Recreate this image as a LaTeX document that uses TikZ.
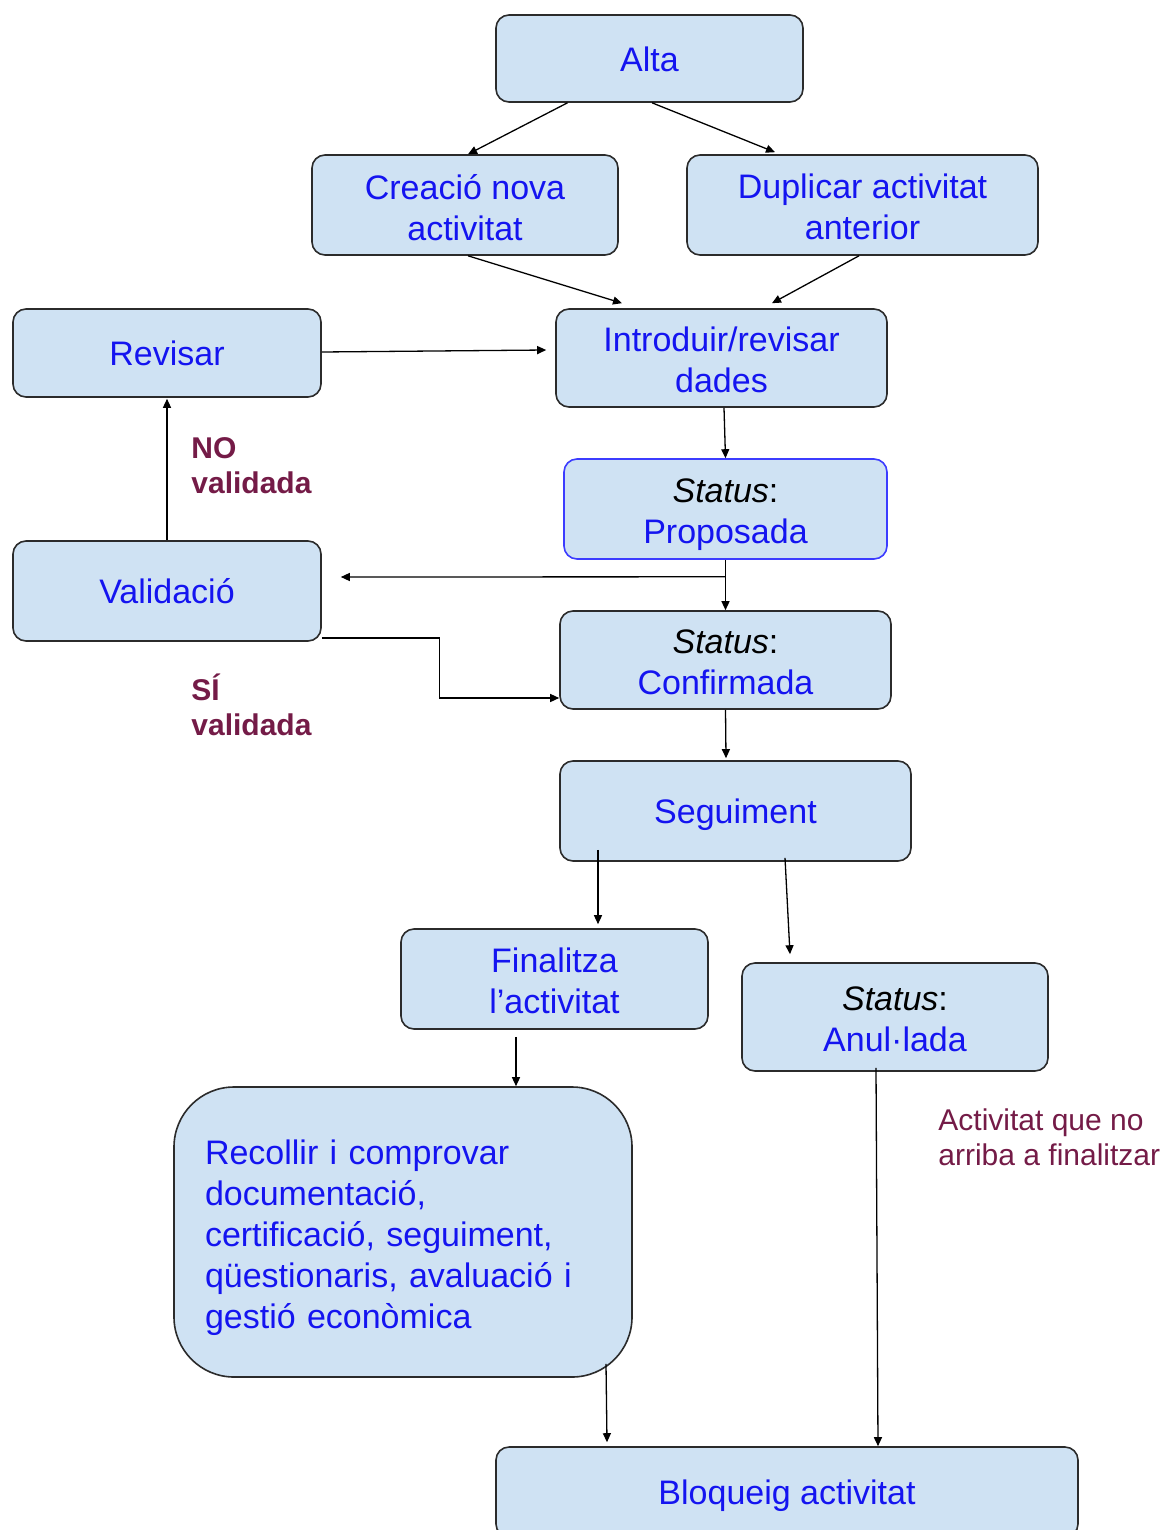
\documentclass[tikz,border=0pt]{standalone}
\usepackage{fontspec}
\setmainfont{Liberation Sans}
\usetikzlibrary{arrows.meta}
\definecolor{boxfill}{HTML}{CFE2F3}
\definecolor{boxline}{HTML}{2B2B2B}
\definecolor{tblue}{RGB}{20,20,240}
\definecolor{maroon}{HTML}{741B47}
\definecolor{propline}{HTML}{3C3CFF}
\newcommand\lift[1]{\rule{0pt}{#1}}
\begin{document}
\begin{tikzpicture}[x=0.5pt,y=-0.5pt,
  box/.style={draw=boxline, fill=boxfill, line width=0.8pt, rounded corners=6.5pt,
    text=tblue, font=\fontsize{17}{20.5}\selectfont, align=center, inner sep=0pt},
  wh/.style 2 args={minimum width=#1*0.5pt, minimum height=#2*0.5pt},
  conn/.style={draw=black, line width=0.65pt, -{Triangle[length=4.5pt,width=4pt]}},
  lbl/.style={text=maroon, align=left, inner sep=0pt, anchor=north west}]
\useasboundingbox (0,0) rectangle (1162,1530);
\clip (0,0) rectangle (1162,1530);

\node[box, wh={307}{87}] (alta) at (649.5,58.5) {\lift{13.4pt}Alta};
\node[box, wh={306}{100}] (creacio) at (465,205) {\lift{14.7pt}Creació nova\\activitat};
\node[box, wh={351}{100}] (duplicar) at (862.5,205) {\lift{14.4pt}Duplicar activitat\\anterior};
\node[box, wh={331}{98}] (intro) at (721.5,358) {\lift{14.4pt}Introduir/revisar\\dades};
\node[box, wh={308}{88}] (revisar) at (167,353) {Revisar};
\node[box, wh={323}{100}, draw=propline] (proposada) at (725.5,509) {\lift{17.6pt}{\color{black}\itshape Status}{\color{black}:}\\Proposada};
\node[box, wh={308}{100}] (validacio) at (167,591) {Validació};
\node[box, wh={331}{98}] (confirmada) at (725.5,660) {\lift{14.6pt}{\color{black}\itshape Status}{\color{black}:}\\Confirmada};
\node[box, wh={351}{100}] (seguiment) at (735.5,811) {\lift{16.4pt}Seguiment};
\node[box, wh={307}{100}] (finalitza) at (554.5,979) {\lift{14.4pt}Finalitza\\l’activitat};
\node[box, wh={306}{108}] (anulada) at (895,1017) {\lift{14.6pt}{\color{black}\itshape Status}{\color{black}:}\\Anul·lada};
\node[box, wh={458}{290}, rounded corners=30pt, align=left, text width=198pt] (recollir) at (403,1232)
  {\lift{18.4pt}Recollir i comprovar\\documentació,\\certificació, seguiment,\\qüestionaris, avaluació i\\gestió econòmica};
\node[box, wh={582}{90}] (bloqueig) at (787,1492) {\lift{16.4pt}Bloqueig activitat};

\node[lbl, font=\bfseries\fontsize{15}{17.5}\selectfont] (nolbl) at (191,437.5) {NO\\validada};
\node[lbl, font=\bfseries\fontsize{15}{17.5}\selectfont] (silbl) at (191,674) {SÍ\\validada};
\node[lbl, font=\fontsize{15}{17.5}\selectfont] (anullbl) at (938,1108.5) {Activitat que no\\arriba a finalitzar};

\draw[conn] ([xshift=-41pt]alta.south) -- ([xshift=1.5pt]creacio.north);
\draw[conn] ([xshift=1.25pt]alta.south) -- ([xshift=-43.75pt,yshift=1pt]duplicar.north);
\draw[conn] ([xshift=1.5pt]creacio.south) -- ([xshift=-49.75pt,yshift=2.5pt]intro.north);
\draw[conn] ([xshift=-1.75pt]duplicar.south) -- ([xshift=25.25pt,yshift=2.5pt]intro.north);
\draw[conn] ([yshift=0.5pt]revisar.east) -- ([xshift=-4.5pt,yshift=4pt]intro.west);
\draw[conn] ([xshift=1.25pt]intro.south) -- (proposada.north);
\draw[conn] (proposada.south) -- (confirmada.north);
\draw[conn] ([yshift=-8.5pt]proposada.south) -- ([xshift=9.5pt,yshift=7pt]validacio.east);
\draw[conn] (validacio.north) -- ([yshift=-0.5pt]revisar.south);
\draw[conn] ([yshift=-23.5pt]validacio.east) -- ++(118,0) |- ([yshift=-19pt]confirmada.west);
\draw[conn] (confirmada.south) -- ([xshift=-4.75pt,yshift=1pt]seguiment.north);
\draw[conn] ([xshift=-68.75pt,yshift=6pt]seguiment.south) -- ([xshift=21.75pt,yshift=2pt]finalitza.north);
\draw[conn] ([xshift=24.75pt,yshift=2pt]seguiment.south) -- ([xshift=-52.5pt,yshift=4pt]anulada.north);
\draw[conn] ([xshift=-19.25pt,yshift=-3.5pt]finalitza.south) -- ([xshift=56.5pt]recollir.north);
\draw[conn] ([xshift=101.5pt,yshift=7pt]recollir.south) -- ([xshift=-90pt,yshift=2pt]bloqueig.north);
\draw[conn] ([xshift=-9.5pt,yshift=2pt]anulada.south) -- ([xshift=45.5pt]bloqueig.north);
\end{tikzpicture}
\end{document}
